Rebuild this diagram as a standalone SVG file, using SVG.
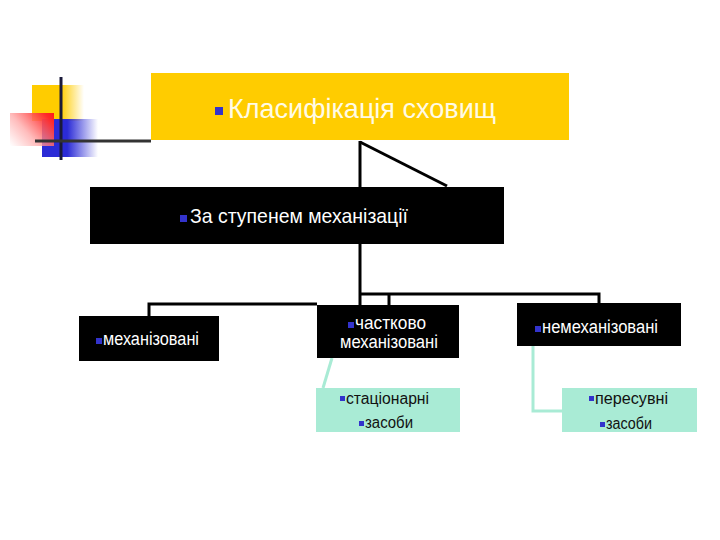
<svg xmlns="http://www.w3.org/2000/svg" width="720" height="540" viewBox="0 0 720 540">
<defs>
<linearGradient id="gy" x1="32" y1="0" x2="84" y2="0" gradientUnits="userSpaceOnUse">
<stop offset="0" stop-color="#FFCC00"/><stop offset="0.55" stop-color="#FFCC00"/><stop offset="1" stop-color="#FFCC00" stop-opacity="0"/>
</linearGradient>
<linearGradient id="gb" x1="42" y1="0" x2="98" y2="0" gradientUnits="userSpaceOnUse">
<stop offset="0" stop-color="#2B2BD6"/><stop offset="0.45" stop-color="#2B2BD6"/><stop offset="1" stop-color="#2B2BD6" stop-opacity="0"/>
</linearGradient>
<linearGradient id="gr" x1="54" y1="114" x2="14" y2="150" gradientUnits="userSpaceOnUse">
<stop offset="0" stop-color="#FF1A1A"/><stop offset="0.12" stop-color="#FF2A2A"/><stop offset="0.6" stop-color="#FF4040" stop-opacity="0.35"/><stop offset="1" stop-color="#FF4040" stop-opacity="0"/>
</linearGradient>
</defs>
<style>
.t{font-family:"Liberation Sans",Arial,sans-serif}
.w{fill:#ffffff}
.d{fill:#111111}
.b{fill:#3333CC}
.blk{fill:#000000}
.mint{fill:#A9EBD5}
.con{fill:none;stroke:#000;stroke-width:3}
.mc{fill:none;stroke:#A9EBD5;stroke-width:3}
</style>
<g id="logo">
<rect x="32" y="85" width="52" height="36" fill="url(#gy)"/>
<rect x="42" y="119" width="56" height="38" fill="url(#gb)"/>
<rect x="10" y="113" width="44" height="33" fill="#ffffff" fill-opacity="0.6"/>
<rect x="10" y="113" width="44" height="33" fill="url(#gr)"/>
<line x1="61" y1="77" x2="61" y2="160" stroke="#1a1a3a" stroke-width="3"/>
<line x1="35" y1="141" x2="151" y2="141" stroke="#333" stroke-width="3"/>
</g>
<g id="connectors">
<path class="con" d="M360,141 V187"/>
<path class="con" d="M360,142 L447,186"/>
<path class="con" d="M360,244 V305"/>
<path class="con" d="M360,294 H599 V303"/>
<path class="con" d="M389,294 V305"/>
<path class="con" d="M149,316 V304 H317"/>
<path class="mc" d="M332,358 L323,388"/>
<path class="mc" d="M533,346 V411 H562"/>
</g>
<g id="n-title">
<rect x="151" y="73" width="418" height="67" fill="#FFCC00"/>
<rect class="b" x="215" y="107" width="8" height="8"/>
<text class="t" x="228" y="118" font-size="28" fill="#FFFBE6" textLength="268" lengthAdjust="spacingAndGlyphs">Класифікація сховищ</text>
</g>
<g id="n-mech">
<rect class="blk" x="90" y="187" width="414" height="57"/>
<rect class="b" x="180" y="215" width="7" height="7"/>
<text class="t w" x="190" y="223" font-size="21" textLength="218" lengthAdjust="spacingAndGlyphs">За ступенем механізації</text>
</g>
<g id="n-mechanized">
<rect class="blk" x="79" y="316" width="140" height="45"/>
<rect class="b" x="96" y="338" width="6" height="6"/>
<text class="t w" x="103" y="345" font-size="18" textLength="96" lengthAdjust="spacingAndGlyphs">механізовані</text>
</g>
<g id="n-partial">
<rect class="blk" x="317" y="305" width="142" height="53"/>
<rect class="b" x="348" y="322" width="6" height="6"/>
<text class="t w" x="355" y="329" font-size="18" textLength="71" lengthAdjust="spacingAndGlyphs">частково</text>
<text class="t w" x="340" y="348" font-size="18" textLength="98" lengthAdjust="spacingAndGlyphs">механізовані</text>
</g>
<g id="n-nonmech">
<rect class="blk" x="517" y="303" width="164" height="43"/>
<rect class="b" x="535" y="326" width="6" height="6"/>
<text class="t w" x="542" y="333" font-size="18" textLength="116" lengthAdjust="spacingAndGlyphs">немеханізовані</text>
</g>
<g id="n-stationary">
<rect class="mint" x="316" y="388" width="144" height="44"/>
<rect class="b" x="340" y="396" width="5" height="5"/>
<text class="t d" x="346" y="404" font-size="16" textLength="83" lengthAdjust="spacingAndGlyphs">стаціонарні</text>
<rect class="b" x="359" y="421" width="5" height="5"/>
<text class="t d" x="365" y="428" font-size="16" textLength="48" lengthAdjust="spacingAndGlyphs">засоби</text>
</g>
<g id="n-mobile">
<rect class="mint" x="562" y="388" width="135" height="44"/>
<rect class="b" x="589" y="396" width="5" height="5"/>
<text class="t d" x="595" y="404" font-size="16" textLength="73" lengthAdjust="spacingAndGlyphs">пересувні</text>
<rect class="b" x="600" y="422" width="5" height="5"/>
<text class="t d" x="606" y="429" font-size="16" textLength="46" lengthAdjust="spacingAndGlyphs">засоби</text>
</g>
</svg>
